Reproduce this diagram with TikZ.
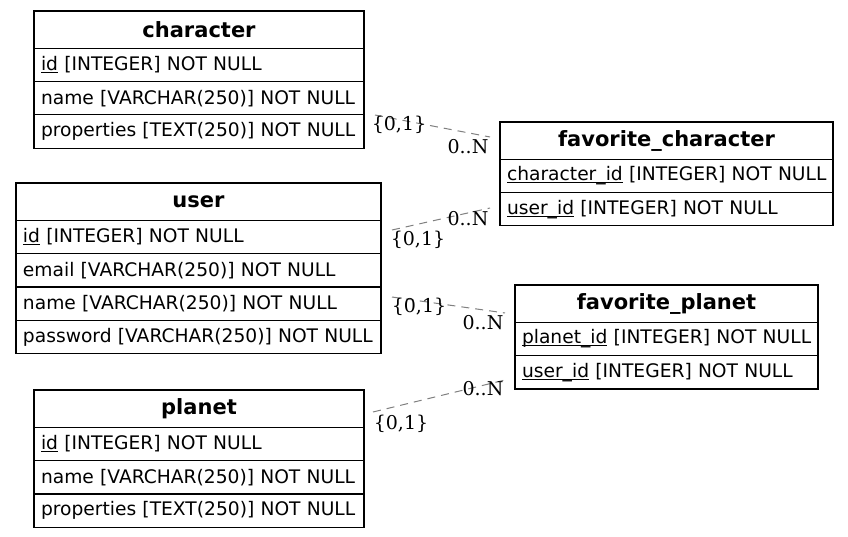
\documentclass[tikz,border=0pt]{standalone}
\usepackage{fontspec}
\setmainfont{DejaVu Sans}
\newfontfamily\lblfont{DejaVu Serif}
\newcommand\ulk[1]{\setbox0\hbox{#1}\rlap{\rule[-2.6pt]{\wd0}{1pt}}\box0\relax}
\begin{document}
\begin{tikzpicture}[x=1pt,y=-1pt,
  tbl/.style={draw=black, line width=1.2pt, outer sep=0pt, anchor=north west},
  hdr/.style={tbl, inner sep=0pt, minimum height=37.3pt, font=\fontsize{21}{24}\selectfont\bfseries},
  fld/.style={tbl, inner ysep=0pt, inner xsep=7pt, minimum height=33.3pt, align=left, font=\fontsize{18.67}{22}\selectfont},
  card/.style={font=\lblfont\fontsize{19}{22}\selectfont, inner sep=0pt},
  rel/.style={draw=gray, dash pattern=on 8pt off 6pt, line width=1pt}]
\useasboundingbox[fill=white] (0,0) rectangle (848,537);

% character
\node[hdr, minimum width=330pt] (ch) at (34,11) {\raisebox{1pt}{character}};
\node[fld, text width=316pt] (ch1) at (ch.south west) {\mbox{\ulk{id} [INTEGER] NOT NULL}};
\node[fld, text width=316pt] (ch2) at (ch1.south west) {\mbox{name [VARCHAR(250)] NOT NULL}};
\node[fld, text width=316pt] (ch3) at (ch2.south west) {\mbox{properties [TEXT(250)] NOT NULL}};

% user
\node[hdr, minimum width=365pt] (us) at (16,183) {\raisebox{1pt}{user}};
\node[fld, text width=351pt] (us1) at (us.south west) {\mbox{\ulk{id} [INTEGER] NOT NULL}};
\node[fld, text width=351pt] (us2) at (us1.south west) {\mbox{email [VARCHAR(250)] NOT NULL}};
\node[fld, text width=351pt] (us3) at (us2.south west) {\mbox{name [VARCHAR(250)] NOT NULL}};
\node[fld, text width=351pt] (us4) at (us3.south west) {\mbox{password [VARCHAR(250)] NOT NULL}};

% planet
\node[hdr, minimum width=330pt] (pl) at (34,390) {\raisebox{1pt}{planet}};
\node[fld, text width=316pt] (pl1) at (pl.south west) {\mbox{\ulk{id} [INTEGER] NOT NULL}};
\node[fld, text width=316pt] (pl2) at (pl1.south west) {\mbox{name [VARCHAR(250)] NOT NULL}};
\node[fld, text width=316pt] (pl3) at (pl2.south west) {\mbox{properties [TEXT(250)] NOT NULL}};

% favorite_character
\node[hdr, minimum width=333pt] (fc) at (500,122) {\raisebox{1pt}{favorite\_character}};
\node[fld, text width=319pt] (fc1) at (fc.south west) {\mbox{\ulk{character\_id} [INTEGER] NOT NULL}};
\node[fld, text width=319pt] (fc2) at (fc1.south west) {\mbox{\ulk{user\_id} [INTEGER] NOT NULL}};

% favorite_planet
\node[hdr, minimum width=303pt] (fp) at (515,285) {\raisebox{1pt}{favorite\_planet}};
\node[fld, text width=289pt] (fp1) at (fp.south west) {\mbox{\ulk{planet\_id} [INTEGER] NOT NULL}};
\node[fld, text width=289pt] (fp2) at (fp1.south west) {\mbox{\ulk{user\_id} [INTEGER] NOT NULL}};

% connectors
\coordinate (r1a) at (375,115); \coordinate (r1b) at (490,137);
\coordinate (r2a) at (392,230); \coordinate (r2b) at (490,208);
\coordinate (r3a) at (392,297); \coordinate (r3b) at (505,313);
\coordinate (r4a) at (373,412); \coordinate (r4b) at (505,380);
\draw[rel] (r1a) -- (r1b);
\draw[rel] (r2a) -- (r2b);
\draw[rel] (r3a) -- (r3b);
\draw[rel] (r4a) -- (r4b);

\node[card] (l1a) at (399,125) {\{0,1\}};
\node[card] (l1b) at (468,147) {0..N};
\node[card] (l2a) at (418,240) {\{0,1\}};
\node[card] (l2b) at (468,219) {0..N};
\node[card] (l3a) at (419,307) {\{0,1\}};
\node[card] (l3b) at (483,323) {0..N};
\node[card] (l4a) at (401,424) {\{0,1\}};
\node[card] (l4b) at (483,389) {0..N};
\end{tikzpicture}
\end{document}
